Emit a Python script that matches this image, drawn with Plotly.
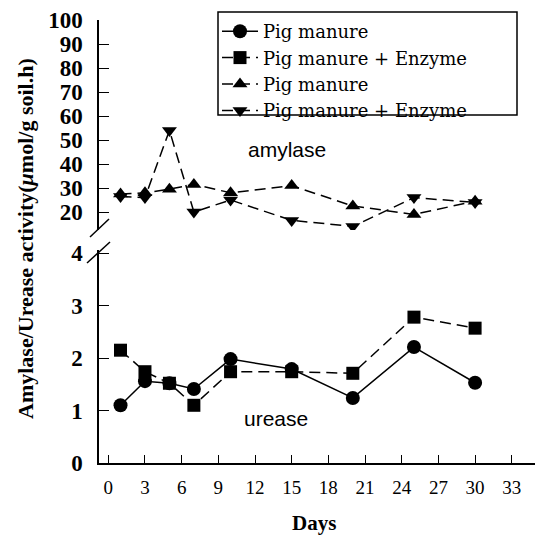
import plotly.graph_objects as go

days = [1, 3, 5, 7, 10, 15, 20, 25, 30]
urease_pm = [1.10, 1.56, 1.52, 1.41, 1.98, 1.79, 1.24, 2.21, 1.53]
urease_pme = [2.15, 1.74, 1.52, 1.10, 1.74, 1.74, 1.71, 2.78, 2.57]
amylase_pm = [27.5, 28, 29.5, 31.5, 28, 31, 22.5, 19, 24.5]
amylase_pme = [26.5, 26, 54, 20, 25, 16.5, 14, 26, 24]
x_ticks = [0, 3, 6, 9, 12, 15, 18, 21, 24, 27, 30, 33]
y_low_ticks = [0, 1, 2, 3, 4]
y_high_ticks = [20, 30, 40, 50, 60, 70, 80, 90, 100]

W, H = 539, 538
L, R, T, B = 99, 4, 20, 75
pw, ph = W - L - R, H - T - B

def px(xp):
    return (xp - L) / pw

def py(yp):
    return (H - B - yp) / ph

serif = "Liberation Serif"
sans = "Liberation Sans"
dash = "11px,6px"

fig = go.Figure()
fig.add_trace(go.Scatter(x=days, y=urease_pm, name="Pig manure", mode="lines+markers",
                         line=dict(color="black", width=1.5),
                         marker=dict(symbol="circle", size=14, color="black"),
                         xaxis="x", yaxis="y"))
fig.add_trace(go.Scatter(x=days, y=urease_pme, name="Pig manure + Enzyme", mode="lines+markers",
                         line=dict(color="black", width=1.5, dash=dash),
                         marker=dict(symbol="square", size=13, color="black"),
                         xaxis="x", yaxis="y"))
fig.add_trace(go.Scatter(x=days, y=amylase_pm, name="Pig manure", mode="lines+markers",
                         line=dict(color="black", width=1.5, dash=dash),
                         marker=dict(symbol="triangle-up", size=13, color="black"),
                         xaxis="x", yaxis="y2"))
fig.add_trace(go.Scatter(x=days, y=amylase_pme, name="Pig manure + Enzyme", mode="lines+markers",
                         line=dict(color="black", width=1.5, dash=dash),
                         marker=dict(symbol="triangle-down", size=13, color="black"),
                         xaxis="x", yaxis="y2"))

axis_common = dict(showline=True, linecolor="black", linewidth=1.5, ticks="inside",
                   tickcolor="black", showgrid=False, zeroline=False, mirror=False,
                   automargin=False)

fig.update_layout(
    width=W, height=H,
    margin=dict(l=L, r=R, t=T, b=B, autoexpand=False),
    plot_bgcolor="white", paper_bgcolor="white",
    showlegend=True,
    legend=dict(x=px(217), y=py(13), xanchor="left", yanchor="top",
                borderwidth=0, bgcolor="rgba(0,0,0,0)",
                font=dict(family="DejaVu Serif", size=18, color="black"),
                tracegroupgap=0, itemwidth=36),
    xaxis=dict(range=[-0.76, 34.9], tickvals=x_ticks, ticklen=8, anchor="y",
               tickfont=dict(family=serif, size=19, color="black"),
               ticklabelstandoff=6, **axis_common),
    yaxis=dict(domain=[0, py(250)], range=[0, 4.06], tickvals=y_low_ticks, ticklen=10,
               anchor="x", ticklabelstandoff=10,
               tickfont=dict(family=serif, size=23, color="black", weight="bold"),
               **axis_common),
    yaxis2=dict(domain=[py(230), 1], range=[12.5, 100], tickvals=y_high_ticks, ticklen=10,
                anchor="x", ticklabelstandoff=10,
                tickfont=dict(family=serif, size=23, color="black", weight="bold"),
                **axis_common),
    annotations=[
        dict(text="amylase", x=px(287), y=py(150), xref="paper", yref="paper",
             xanchor="center", yanchor="middle",
             showarrow=False, font=dict(family=sans, size=21, color="black")),
        dict(text="urease", x=px(276), y=py(418), xref="paper", yref="paper",
             xanchor="center", yanchor="middle",
             showarrow=False, font=dict(family=sans, size=21, color="black")),
        dict(text="<b>Days</b>", x=px(314), y=py(523), xref="paper", yref="paper",
             xanchor="center", yanchor="middle",
             showarrow=False, font=dict(family=serif, size=21, color="black")),
        dict(text="<b>Amylase/Urease activity(<i>μ</i>mol/g soil.h)</b>", x=px(25), y=py(239),
             xref="paper", yref="paper", textangle=-90, showarrow=False,
             xanchor="center", yanchor="middle",
             font=dict(family=serif, size=22, color="black")),
    ],
    shapes=[
        dict(type="line", xref="paper", yref="paper", x0=px(90), y0=py(237), x1=px(109), y1=py(219),
             line=dict(color="black", width=1.5)),
        dict(type="line", xref="paper", yref="paper", x0=px(87), y0=py(263), x1=px(110), y1=py(242),
             line=dict(color="black", width=1.5)),
        dict(type="rect", xref="paper", yref="paper", x0=px(218), y0=py(12), x1=px(517), y1=py(115),
             line=dict(color="black", width=1.5), fillcolor="rgba(0,0,0,0)"),
    ],
)

fig.write_html("out.html", config={"displayModeBar": False},
               post_script="document.body.style.margin='0';document.body.style.overflow='hidden';")
